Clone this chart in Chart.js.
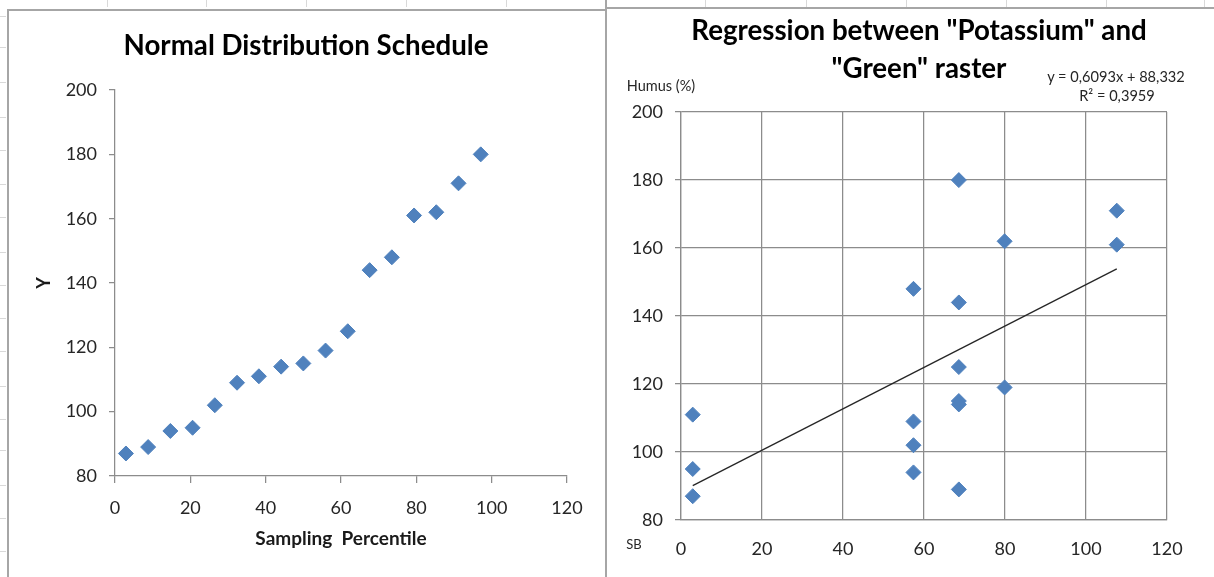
<!DOCTYPE html>
<html lang="en">
<head>
<meta charset="UTF-8">
<title>Normal Distribution Schedule / Regression</title>
<script src="https://cdn.jsdelivr.net/npm/chart.js"></script>
<style>
  body { margin: 0; background: #fff; width: 1214px; height: 577px; overflow: hidden; position: relative; font-family: Lato, "Open Sans", sans-serif; }
  canvas { position: absolute; }
  .line { position: absolute; background: #a6a6a6; }
  .tick { position: absolute; background: #d9d9d9; }
  .note { position: absolute; white-space: nowrap; color: #262626; transform: translate(-50%, -50%); line-height: 1; }
</style>
</head>
<body>
<canvas id="normalChart" width="598" height="567" style="left:8px;top:10px"></canvas>
<canvas id="regChart" width="607" height="569" style="left:607px;top:8px"></canvas>

<div class="note" style="left:661px;top:86px;font-size:14.5px">Humus (%)</div>
<div class="note" style="left:634px;top:544px;font-size:13px">SB</div>
<div class="note" style="left:1116px;top:77px;font-size:14.6px">y = 0,6093x + 88,332</div>
<div class="note" style="left:1117px;top:96px;font-size:14.6px">R² = 0,3959</div>

<script>
// left chart: sampling percentile vs sorted values
const percentiles = [2.9, 8.8, 14.7, 20.6, 26.5, 32.4, 38.2, 44.1, 50.0, 55.9, 61.8, 67.6, 73.5, 79.4, 85.3, 91.2, 97.1];
const sortedY = [87, 89, 94, 95, 102, 109, 111, 114, 115, 119, 125, 144, 148, 161, 162, 171, 180];

// right chart: SB (potassium) vs humus
const sbValues = [2.9, 2.9, 2.9, 57.4, 57.4, 57.4, 57.4, 68.6, 68.6, 68.6, 68.6, 68.6, 68.6, 79.9, 79.9, 107.6, 107.6];
const humusValues = [111, 95, 87, 148, 109, 102, 94, 180, 144, 125, 115, 114, 89, 162, 119, 171, 161];

// linear trendline end points (y = 0,6093x + 88,332)
const trendX = [2.9, 107.6];
const trendY = [90.1, 153.9];

const FONT = 'Lato, "Open Sans", sans-serif';
const BLUE = '#4F81BD';
const AXIS = '#8c8c8c';
const TXT = '#262626';

// spreadsheet cell marks behind the charts
const colMarks = [107, 206, 306, 406, 506, 705, 806, 906, 1006, 1106, 1204];
const rowMarks = [16, 47, 82, 117, 150, 184, 217, 252, 285, 318, 351, 386, 419, 450, 485, 518, 551];
colMarks.forEach(x => {
    const d = document.createElement('div');
    d.className = 'tick';
    d.style.cssText = `left:${x}px;top:0;width:1px;height:7px`;
    document.body.appendChild(d);
});
rowMarks.forEach(y => {
    const d = document.createElement('div');
    d.className = 'tick';
    d.style.cssText = `left:0;top:${y}px;width:6px;height:1px`;
    document.body.appendChild(d);
});
[
    'left:7px;top:9px;width:1.5px;height:568px',
    'left:7px;top:9px;width:599px;height:1.5px',
    'left:605px;top:0;width:1.5px;height:577px',
    'left:605px;top:7px;width:609px;height:1.5px'
].forEach(css => {
    const d = document.createElement('div');
    d.className = 'line';
    d.style.cssText = css;
    document.body.appendChild(d);
});

function toPoints(xs, ys) {
    return xs.map((x, i) => ({ x: x, y: ys[i] }));
}

// Normal distribution schedule
// (left padding 37 keeps the title centred on the panel, the y axis box fills the rest up to the plot)
new Chart(document.getElementById('normalChart'), {
    type: 'scatter',
    data: {
        datasets: [{
            data: toPoints(percentiles, sortedY),
            pointStyle: 'rectRot',
            pointRadius: 7.5,
            backgroundColor: BLUE,
            borderColor: BLUE,
            borderWidth: 1
        }]
    },
    options: {
        responsive: false,
        animation: false,
        layout: { padding: { left: 37, right: 39, top: 0, bottom: 0 } },
        plugins: {
            legend: { display: false },
            tooltip: { enabled: false },
            title: {
                display: true,
                text: 'Normal Distribution Schedule',
                color: '#000',
                font: { family: FONT, size: 27.7, weight: 'bold', lineHeight: 1.2 },
                padding: { top: 19, bottom: 27.8 }
            }
        },
        scales: {
            x: {
                type: 'linear', min: 0, max: 120,
                ticks: { stepSize: 20, color: TXT, font: { family: FONT, size: 18 }, padding: 14 },
                grid: { drawOnChartArea: false, drawTicks: true, tickLength: 7, color: AXIS, lineWidth: 1.25 },
                border: { color: AXIS, width: 1.25 },
                title: {
                    display: true, text: 'Sampling  Percentile', color: '#1a1a1a',
                    font: { family: FONT, size: 19, weight: 'bold', lineHeight: 1.2 },
                    padding: { top: 0, bottom: 26.6 }
                },
                afterFit(s) { s.height = 101; }
            },
            y: {
                min: 80, max: 200,
                ticks: { stepSize: 20, color: TXT, font: { family: FONT, size: 18 }, padding: 12 },
                grid: { drawOnChartArea: false, drawTicks: true, tickLength: 6, color: AXIS, lineWidth: 1.25 },
                border: { color: AXIS, width: 1.25 },
                title: {
                    display: true, text: 'Y', color: '#1a1a1a',
                    font: { family: FONT, size: 18, weight: 'bold', lineHeight: 1.2 },
                    padding: { top: -11.8, bottom: 0 }
                },
                afterFit(s) { s.width = 70; }
            }
        }
    }
});

// Regression chart
// an empty right-hand axis reserves space so the title sits over the middle of the panel
new Chart(document.getElementById('regChart'), {
    type: 'scatter',
    data: {
        datasets: [{
            data: toPoints(sbValues, humusValues),
            pointStyle: 'rectRot',
            pointRadius: 7.5,
            backgroundColor: BLUE,
            borderColor: BLUE,
            borderWidth: 1,
            order: 2
        }, {
            data: toPoints(trendX, trendY),
            showLine: true,
            pointRadius: 0,
            borderColor: '#262626',
            borderWidth: 1.3,
            order: 1
        }]
    },
    options: {
        responsive: false,
        animation: false,
        layout: { padding: { left: 17, right: 0, top: 0, bottom: 0 } },
        plugins: {
            legend: { display: false },
            tooltip: { enabled: false },
            title: {
                display: true,
                text: ['Regression between "Potassium" and', '"Green" raster'],
                color: '#000',
                font: { family: FONT, size: 27.7, weight: 'bold', lineHeight: 1.37 },
                padding: { top: 4, bottom: 24.2 }
            }
        },
        scales: {
            x: {
                type: 'linear', min: 0, max: 120,
                ticks: { stepSize: 20, color: TXT, font: { family: FONT, size: 18 }, padding: 18 },
                grid: { drawTicks: false, color: AXIS, lineWidth: 1.25 },
                border: { color: AXIS, width: 1.25 },
                afterFit(s) { s.height = 57; }
            },
            y: {
                min: 80, max: 200,
                ticks: { stepSize: 20, color: TXT, font: { family: FONT, size: 18 }, padding: 12 },
                grid: { drawTicks: true, tickLength: 6, color: AXIS, lineWidth: 1.25 },
                border: { color: AXIS, width: 1.25 },
                afterFit(s) { s.width = 57; }
            },
            spacer: {
                type: 'linear', position: 'right', min: 80, max: 200,
                ticks: { display: false },
                grid: { display: false },
                border: { display: false },
                afterFit(s) { s.width = 47; }
            }
        }
    }
});
</script>
</body>
</html>
